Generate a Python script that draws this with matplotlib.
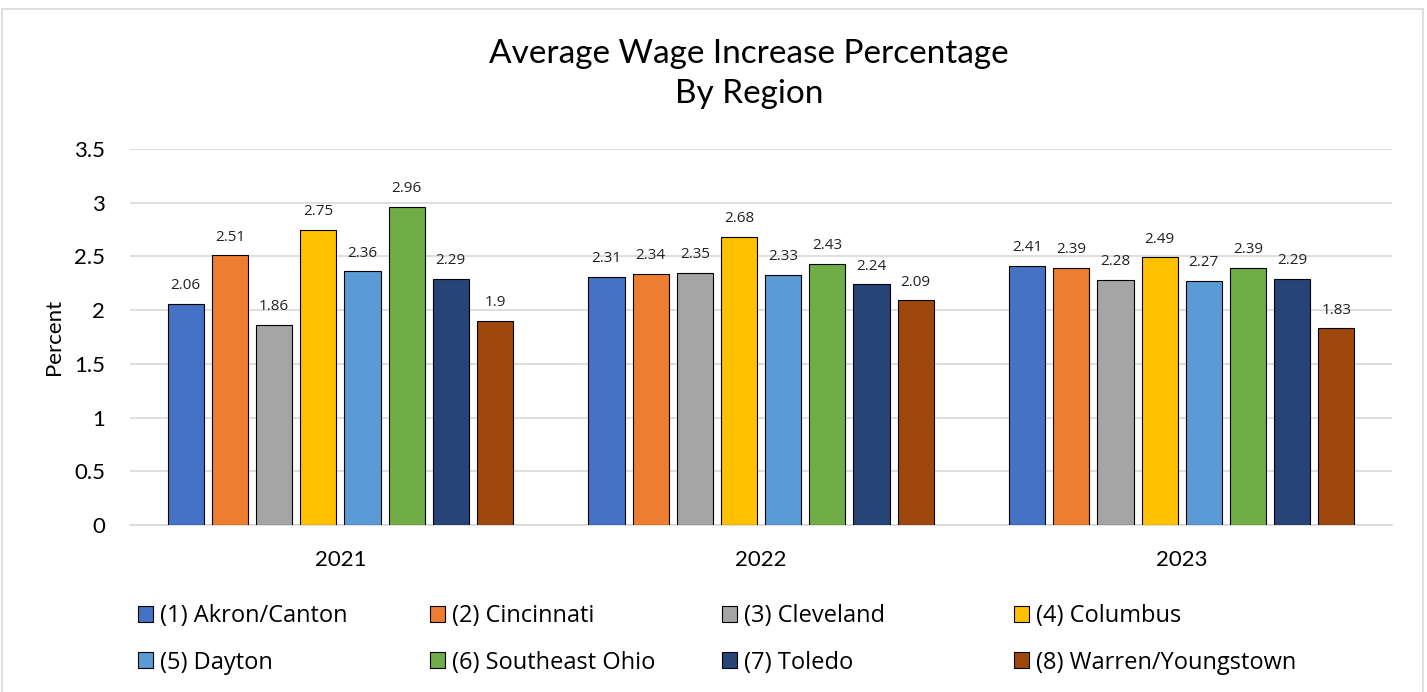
import matplotlib.pyplot as plt
import numpy as np
from matplotlib.patches import Rectangle

years = ["2021", "2022", "2023"]
regions = ["(1) Akron/Canton", "(2) Cincinnati", "(3) Cleveland", "(4) Columbus",
           "(5) Dayton", "(6) Southeast Ohio", "(7) Toledo", "(8) Warren/Youngstown"]
values = [
    [2.06, 2.31, 2.41],
    [2.51, 2.34, 2.39],
    [1.86, 2.35, 2.28],
    [2.75, 2.68, 2.49],
    [2.36, 2.33, 2.27],
    [2.96, 2.43, 2.39],
    [2.29, 2.24, 2.29],
    [1.90, 2.09, 1.83],
]
colors = ["#4472C4", "#ED7D31", "#A5A5A5", "#FFC000",
          "#5B9BD5", "#70AD47", "#264478", "#9E480E"]

plt.rcParams["font.family"] = ["Lato", "DejaVu Sans"]

fig = plt.figure(figsize=(14.27, 6.92), dpi=100)
ax = fig.add_axes([0.0911, 0.2413, 0.8844, 0.5434])

# light frame around the whole chart
fig.patches.append(Rectangle((0.0015, -0.01), 0.9955, 0.997, transform=fig.transFigure,
                             fill=False, edgecolor="#D9D9D9", linewidth=1.2))

x = np.arange(len(years))
slot = 0.105
width = 0.086
handles = []
for i, (name, vals, c) in enumerate(zip(regions, values, colors)):
    pos = x + (i - 3.5) * slot
    bars = ax.bar(pos, vals, width, color=c, edgecolor="black", linewidth=0.8,
                  label=name, zorder=3)
    handles.append(bars)
    for b, v in zip(bars, vals):
        ax.text(b.get_x() + b.get_width() / 2, v + 0.1, "%g" % v, ha="center", va="bottom",
                fontsize=11, family=["Open Sans", "DejaVu Sans"], color="#222222")

ax.set_xlim(-0.5, 2.5)
ax.set_ylim(0, 3.5)
ax.set_yticks(np.arange(0, 3.51, 0.5))
ax.set_yticklabels(["0", "0.5", "1", "1.5", "2", "2.5", "3", "3.5"])
ax.set_xticks(x)
ax.set_xticklabels(years)
ax.tick_params(axis="both", length=0, labelsize=16)
ax.tick_params(axis="x", pad=18)
ax.tick_params(axis="y", pad=18)
ax.grid(axis="y", color="#D9D9D9", linewidth=1.2, zorder=0)
for s in ["top", "right", "left"]:
    ax.spines[s].set_visible(False)
ax.spines["bottom"].set_color("#D9D9D9")
ax.spines["bottom"].set_linewidth(1.2)

ax.set_ylabel("Percent", fontsize=16)
ax.yaxis.set_label_coords(-0.052, 0.5)

fig.text(0.525, 0.893, "Average Wage Increase Percentage\nBy Region", ha="center",
         va="center", fontsize=24, linespacing=1.45)

# legend laid out row by row, one legend per column
col_x = [138, 430, 722, 1014]
for j in range(4):
    fig.legend([handles[j], handles[j + 4]], [regions[j], regions[j + 4]],
               loc="upper left", bbox_to_anchor=(col_x[j] / 1427, 0.127),
               frameon=False, prop={"family": ["Open Sans", "DejaVu Sans"], "size": 17},
               handlelength=0.64, handleheight=0.64, handletextpad=0.3,
               borderaxespad=0, borderpad=0, labelspacing=0.95)

fig.savefig("out.png", dpi=100)
